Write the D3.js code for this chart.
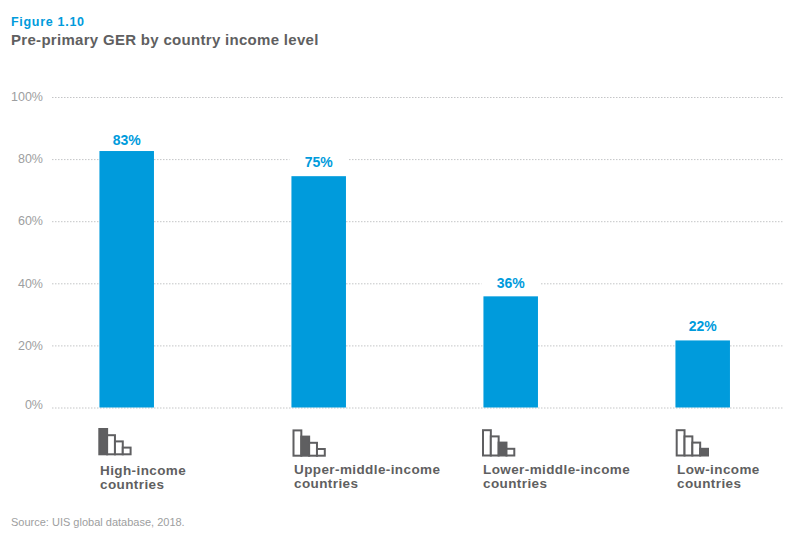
<!DOCTYPE html>
<html>
<head>
<meta charset="utf-8">
<script src="https://cdn.jsdelivr.net/npm/d3@7"></script>
<style>
  html, body { margin: 0; padding: 0; background: #fff; }
  text { font-family: "Liberation Sans", Arial, sans-serif; }
</style>
</head>
<body>
<svg id="chart" width="800" height="543"></svg>
<script>
// Data
let categories = ['High-income', 'Upper-middle-income', 'Lower-middle-income', 'Low-income'];
let values = [82.6, 74.5, 35.8, 21.6];
let yTicks = [0, 20, 40, 60, 80, 100];
let iconLevels = [4, 3, 2, 1];

let blue = '#009bdc';
let dark = '#5f5f61';
let grey = '#9d9ea0';

let svg = d3.select('#chart');

// Scales
let x = d3.scaleBand().domain(categories).range([30.7, 798.7]).paddingInner(0.716).paddingOuter(0.358);
let y = d3.scaleLinear().domain([0, 100]).range([407.5, 97]);

// Titles
svg.append('text').attr('x', 11).attr('y', 26).attr('fill', blue)
    .attr('font-size', 12.5).attr('font-weight', 700).attr('letter-spacing', 0.7).text('Figure 1.10');
svg.append('text').attr('x', 11).attr('y', 44.5).attr('fill', dark)
    .attr('font-size', 15).attr('font-weight', 700).attr('letter-spacing', 0.3).text('Pre-primary GER by country income level');

// Gridlines and axis labels
let yAxis = d3.axisLeft(y).tickValues(yTicks).tickSize(-732).tickFormat(d => d + '%');
let axisG = svg.append('g').attr('transform', 'translate(52,0)').call(yAxis);
axisG.select('.domain').remove();
axisG.selectAll('.tick line').attr('stroke', '#c4c5c7').attr('stroke-width', 1).attr('stroke-dasharray', '1.5 1.5');
axisG.selectAll('.tick text')
    .attr('fill', grey)
    .attr('font-size', 12.5)
    .attr('x', -9)
    .attr('dy', d => d === 0 ? '0.08em' : '0.3em');

// Bars
svg.selectAll('rect.bar').data(values).enter().append('rect')
    .attr('class', 'bar')
    .attr('x', (d, i) => x(categories[i]))
    .attr('y', d => y(d))
    .attr('width', x.bandwidth())
    .attr('height', d => y(0) - y(d))
    .attr('fill', blue);

// Value labels, on a white patch where they sit over a gridline
let labelGap = [6, 9, 8, 9];
svg.selectAll('rect.patch').data(values).enter().append('rect')
    .attr('class', 'patch')
    .attr('x', (d, i) => x(categories[i]) - 2)
    .attr('y', (d, i) => y(d) - labelGap[i] - 13)
    .attr('width', x.bandwidth() + 4)
    .attr('height', 16)
    .attr('fill', '#fff');

svg.selectAll('text.value').data(values).enter().append('text')
    .attr('class', 'value')
    .attr('x', (d, i) => x(categories[i]) + x.bandwidth() / 2)
    .attr('y', (d, i) => y(d) - labelGap[i])
    .attr('text-anchor', 'middle')
    .attr('fill', blue)
    .attr('font-size', 14)
    .attr('font-weight', 700)
    .text(d => Math.round(d) + '%');

// Income icons: four falling bars, the country's own level is filled
let iconLeft = [98.3, 292.5, 482, 675.7];
let iconBase = [455.3, 456.7, 456.5, 456.5];
let iconX = d3.scaleBand().domain(iconLevels).range([1, 32.3]);
let iconY = d3.scaleLinear().domain([1, 4]).range([6.7, 25.3]);

categories.forEach((cat, c) => {
    let g = svg.append('g').attr('transform', 'translate(' + iconLeft[c] + ',' + iconBase[c] + ')');
    g.selectAll('rect').data(iconLevels).enter().append('rect')
        .attr('x', d => iconX(d))
        .attr('y', d => -iconY(d) - 1)
        .attr('width', iconX.bandwidth())
        .attr('height', d => iconY(d))
        .attr('fill', (d, i) => i === c ? dark : '#fff')
        .attr('stroke', dark)
        .attr('stroke-width', 2);
});

// Category labels
let labelLeft = [100, 294, 483, 677];
let labelTop = [475, 474, 474, 474];
categories.forEach((cat, c) => {
    let t = svg.append('text').attr('fill', dark).attr('font-size', 13.5).attr('font-weight', 700).attr('letter-spacing', 0.4);
    t.append('tspan').attr('x', labelLeft[c]).attr('y', labelTop[c]).text(cat + ' ');
    t.append('tspan').attr('x', labelLeft[c]).attr('y', labelTop[c] + 14).text('countries');
});

// Source
svg.append('text').attr('x', 11).attr('y', 526).attr('fill', grey)
    .attr('font-size', 11).text('Source: UIS global database, 2018.');
</script>
</body>
</html>
